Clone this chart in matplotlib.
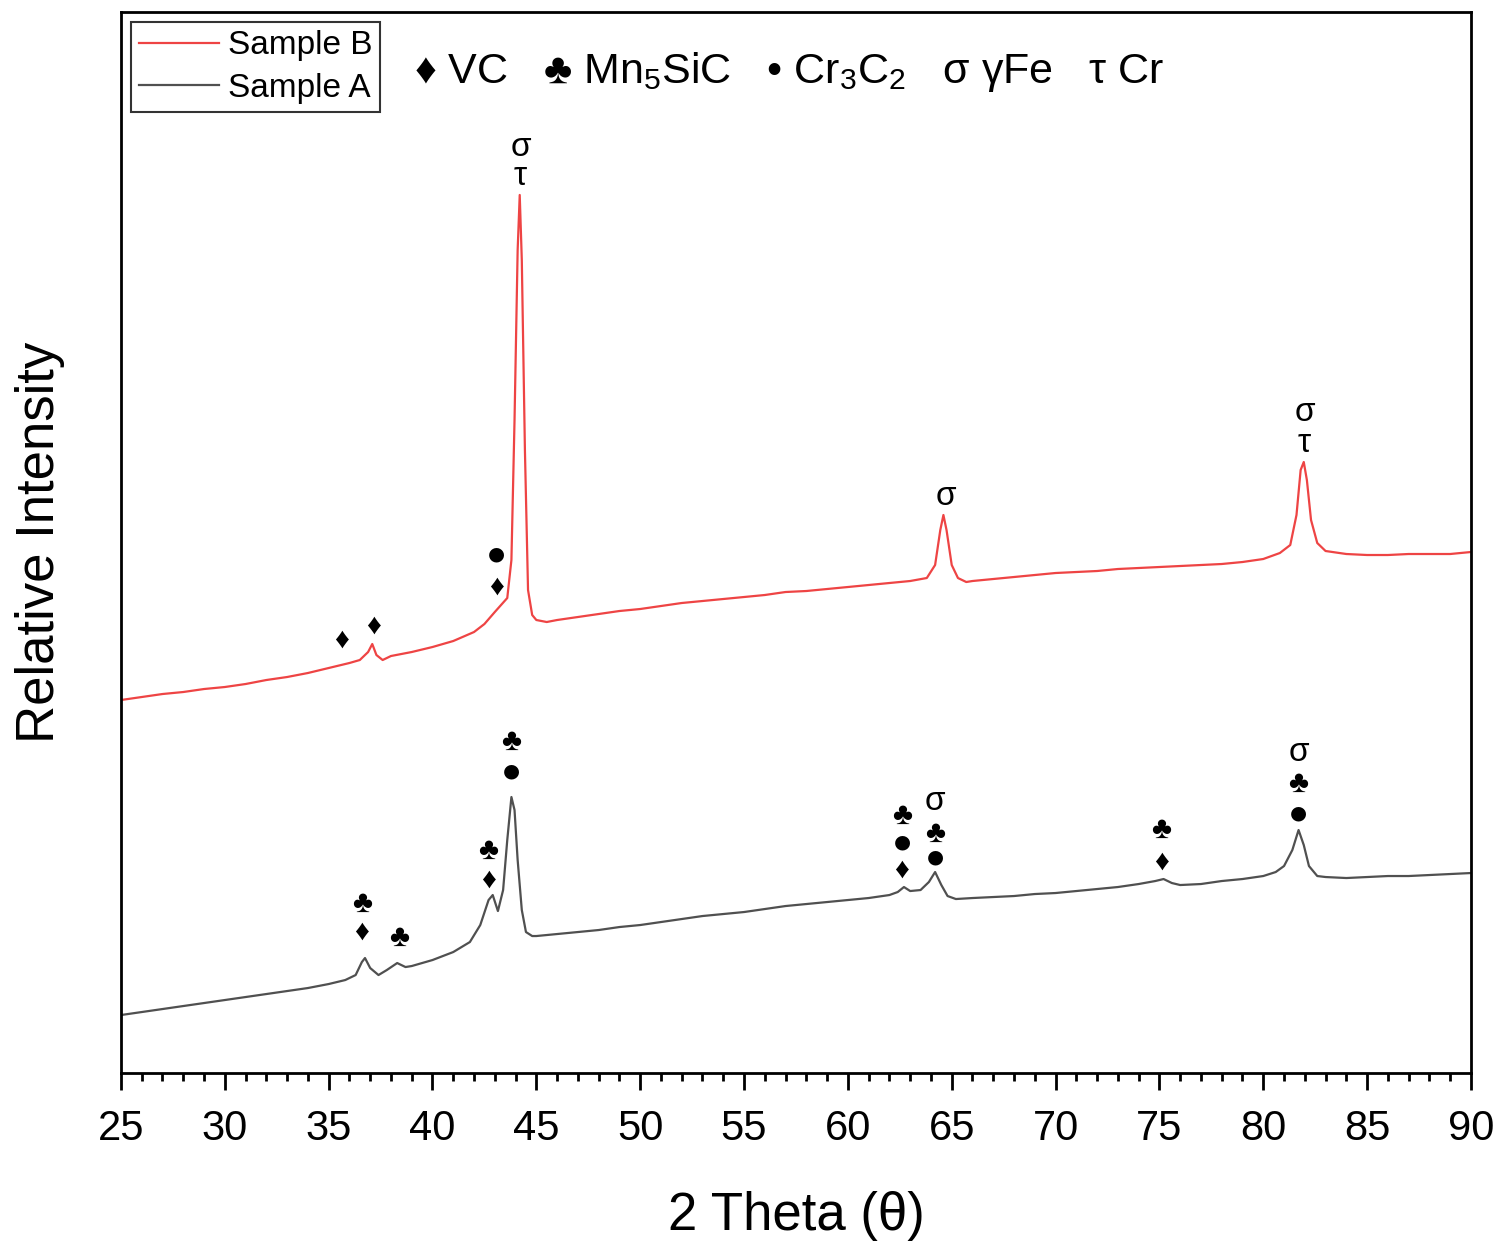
import numpy as np
import matplotlib
matplotlib.use('Agg')
import matplotlib.pyplot as plt

plt.rcParams['font.family'] = ['Liberation Sans', 'DejaVu Sans']
plt.rcParams['mathtext.fontset'] = 'custom'
plt.rcParams['mathtext.rm'] = 'Liberation Sans'

# 2 theta / intensity (arbitrary units)
theta_b = [25, 26, 27, 28, 29, 30, 31, 32, 33, 34, 35, 35.6, 36, 36.5, 36.9, 37.1, 37.3, 37.6,
           38, 39, 40, 41, 42, 42.5, 43, 43.3, 43.6, 43.8, 43.95, 44.1, 44.2, 44.3, 44.45, 44.6,
           44.8, 45, 45.5, 46, 47, 48, 49, 50, 51, 52, 53, 54, 55, 56, 57, 58, 59, 60, 61, 62, 63,
           63.8, 64.2, 64.45, 64.6, 64.75, 65.0, 65.3, 65.7, 66, 67, 68, 69, 70, 71, 72, 73, 74,
           75, 76, 77, 78, 79, 80, 80.8, 81.3, 81.6, 81.8, 81.95, 82.1, 82.3, 82.6, 83, 84, 85,
           86, 87, 88, 89, 90]
int_b = [373, 376, 379, 381, 384, 386, 389, 393, 396, 400, 405, 408, 410, 413, 421, 429, 418, 413,
         417, 421, 426, 432, 441, 449, 461, 468, 475, 513, 653, 823, 878, 813, 623, 483,
         458, 453, 451, 453, 456, 459, 462, 464, 467, 470, 472, 474, 476, 478, 481, 482, 484, 486, 488, 490, 492,
         495, 508, 543, 558, 543, 508, 495, 491, 492, 494, 496, 498, 500, 501, 502, 504, 505,
         506, 507, 508, 509, 511, 514, 520, 528, 558, 603, 611, 593, 553, 530, 522, 519, 518,
         518, 519, 519, 519, 521]

theta_a = [25, 26, 27, 28, 29, 30, 31, 32, 33, 34, 35, 35.8, 36.3, 36.6, 36.75, 37.0, 37.4, 37.8,
           38.3, 38.7, 39, 40, 41, 41.8, 42.3, 42.7, 42.9, 43.15, 43.4, 43.6, 43.8, 43.95, 44.1,
           44.3, 44.5, 44.8, 45, 46, 47, 48, 49, 50, 51, 52, 53, 54, 55, 56, 57, 58, 59, 60, 61,
           62, 62.4, 62.7, 63.0, 63.5, 63.9, 64.2, 64.5, 64.8, 65.2, 66, 67, 68, 69, 70, 71, 72,
           73, 74, 74.8, 75.2, 75.6, 76, 77, 78, 79, 80, 80.6, 81.0, 81.4, 81.7, 81.95, 82.2,
           82.6, 83, 84, 85, 86, 87, 88, 89, 90]
int_a = [58, 61, 64, 67, 70, 73, 76, 79, 82, 85, 89, 93, 98, 111, 115, 105, 98, 103,
         110, 106, 107, 113, 121, 131, 148, 173, 178, 162, 183, 233, 276, 263, 213,
         163, 141, 137, 137, 139, 141, 143, 146, 148, 151, 154, 157, 159, 161, 164, 167, 169, 171, 173, 175,
         178, 181, 186, 182, 183, 191, 201, 188, 177, 174, 175, 176, 177, 179, 180, 182, 184,
         186, 189, 192, 194, 190, 188, 189, 192, 194, 197, 201, 207, 223, 243, 228, 207,
         197, 196, 195, 196, 197, 197, 198, 199, 200]

# phase markers: symbol, 2theta, height
marks = [('♦', 35.64, 433), ('♦', 37.18, 447), ('●', 43.08, 519), ('♦', 43.08, 486),
         ('σ', 44.25, 925), ('τ', 44.2, 896), ('σ', 64.7, 577), ('σ', 82.0, 660), ('τ', 81.95, 630),
         ('♣', 36.6, 169), ('♦', 36.6, 141), ('♣', 38.4, 135),
         ('♣', 42.7, 222), ('♦', 42.7, 193), ('♣', 43.8, 331), ('●', 43.8, 302),
         ('♣', 62.6, 257), ('●', 62.6, 231), ('♦', 62.6, 203),
         ('σ', 64.2, 272), ('♣', 64.2, 239), ('●', 64.2, 216),
         ('♣', 75.1, 243), ('♦', 75.1, 211),
         ('σ', 81.7, 321), ('♣', 81.7, 289), ('●', 81.7, 260)]
sym_size = {'♦': 21, '♣': 22, '●': 14, 'σ': 24, 'τ': 24}

fig = plt.figure(figsize=(14.97, 12.47), dpi=100)
ax = fig.add_axes([0.0808, 0.1395, 0.9018, 0.8509])

ax.plot(theta_b, int_b, color='#ee4444', lw=1.6, label='Sample B')
ax.plot(theta_a, int_a, color='#505050', lw=1.6, label='Sample A')

for s, x, y in marks:
    fam = ['DejaVu Sans'] if s == '●' else ['Liberation Sans', 'DejaVu Sans']
    ax.text(x, y, s, ha='center', va='center', fontsize=sym_size[s], family=fam)

ax.set_xlim(25, 90)
ax.set_ylim(0, 1061)
ax.set_xticks(np.arange(25, 91, 5))
ax.set_xticks(np.arange(25, 91, 1), minor=True)
ax.set_yticks([])
ax.tick_params(axis='x', which='major', direction='out', length=12, width=2, labelsize=30, pad=14)
ax.tick_params(axis='x', which='minor', direction='out', length=6, width=2)
for sp in ax.spines.values():
    sp.set_linewidth(2)

ax.set_xlabel('2 Theta (θ)', fontsize=38, labelpad=30)
ax.set_ylabel('Relative Intensity', fontsize=38, labelpad=40)

leg = ax.legend(loc='upper left', fontsize=24, frameon=True, fancybox=False,
                edgecolor='black', borderpad=0.25, handlelength=2.4, handletextpad=0.25,
                labelspacing=0.35, borderaxespad=0.3)
leg.get_frame().set_linewidth(1.5)

ax.text(0.217, 0.943, '♦ VC   ♣ Mn$_5$SiC   • Cr$_3$C$_2$   σ γFe   τ Cr',
        transform=ax.transAxes, fontsize=31, va='center', ha='left',
        family=['Liberation Sans', 'DejaVu Sans'])

fig.savefig('out.png', dpi=100)
